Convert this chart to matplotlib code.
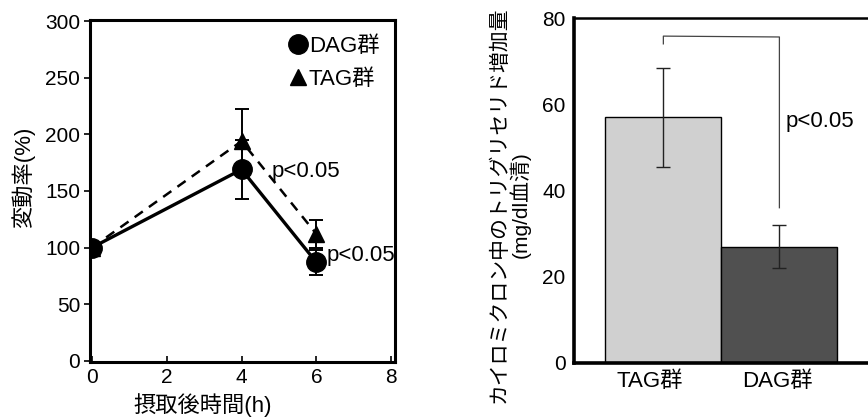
import matplotlib
matplotlib.use("Agg")
import matplotlib.pyplot as plt
from matplotlib.lines import Line2D

plt.rcParams['font.family'] = ['Liberation Sans', 'Noto Sans CJK JP', 'DejaVu Sans']

# Left panel data
hours = [0, 4, 6]
dag_rate = [100, 169, 87]
dag_err = [0, 26, 11]
tag_rate = [100, 194, 112]
tag_err = [0, 28, 12]
x_ticks = [0, 2, 4, 6, 8]
y_ticks_left = [0, 50, 100, 150, 200, 250, 300]

# Right panel data
groups = ['TAG群', 'DAG群']
tg_increase = [57, 27]
tg_err = [11.5, 5]
y_ticks_right = [0, 20, 40, 60, 80]

W, H = 868, 417
fig = plt.figure(figsize=(W / 100, H / 100), dpi=100)

def pos(l, t, r, b):
    return [l / W, 1 - b / H, (r - l) / W, (b - t) / H]

# ---------- Left panel ----------
ax1 = fig.add_axes(pos(90, 20, 395, 362))
ax1.plot(hours, tag_rate, color='black', lw=1.8, ls=(0, (4, 3)), zorder=2)
ax1.plot(hours, dag_rate, color='black', lw=2.4, zorder=3)
ax1.errorbar(hours, tag_rate, yerr=tag_err, fmt='^', color='black', ms=11,
             capsize=5, elinewidth=1.4, capthick=1.4, zorder=4)
ax1.errorbar(hours, dag_rate, yerr=dag_err, fmt='o', color='black', ms=14,
             capsize=5, elinewidth=1.4, capthick=1.4, zorder=5)
ax1.set_xlim(-0.05, 8.1)
ax1.set_ylim(-1, 301)
ax1.set_xticks(x_ticks)
ax1.set_yticks(y_ticks_left)
ax1.tick_params(axis='y', direction='out', length=4, width=1.2, labelsize=15, pad=3)
ax1.tick_params(axis='x', direction='in', length=4, width=1.2, labelsize=15, pad=4)
for s in ax1.spines.values():
    s.set_linewidth(2.2)
ax1.set_xlabel('摂取後時間(h)', fontsize=16)
ax1.xaxis.set_label_coords(0.37, -0.09)
ax1.set_ylabel('変動率(%)', fontsize=16)
ax1.yaxis.set_label_coords(-0.18, 0.54)
ax1.text(4.8, 167, 'p<0.05', fontsize=16, va='center', ha='left')
ax1.text(6.27, 93, 'p<0.05', fontsize=16, va='center', ha='left')
handles = [Line2D([], [], marker='o', ls='', color='black', ms=14),
           Line2D([], [], marker='^', ls='', color='black', ms=11)]
ax1.legend(handles, ['DAG群', 'TAG群'], loc='upper right', frameon=False,
           fontsize=16, handlelength=0.7, handletextpad=0.15, labelspacing=0.55,
           borderaxespad=0.5, borderpad=0.2, bbox_to_anchor=(1.0, 1.0))

# ---------- Right panel ----------
ax2 = fig.add_axes(pos(574, 18, 885, 363))
xpos = list(range(len(groups)))
ax2.bar(xpos, tg_increase, width=1.0, color=['#d0d0d0', '#505050'],
        edgecolor='black', linewidth=1.0, zorder=2)
ax2.errorbar(xpos, tg_increase, yerr=tg_err, fmt='none', ecolor='#222222',
             elinewidth=1.0, capsize=5, capthick=1.0, zorder=3)
ax2.plot([0, 0, 1, 1], [74, 75.8, 75.6, 36], color='#444444', lw=0.9, zorder=3)
ax2.text(1.05, 56, 'p<0.05', fontsize=16, va='center', ha='left')
ax2.set_xlim(-0.77, 1.91)
ax2.set_ylim(0, 80)
ax2.set_xticks([x - 0.12 if i == 0 else x - 0.02 for i, x in enumerate(xpos)])
ax2.set_xticklabels(groups)
ax2.set_yticks(y_ticks_right)
ax2.tick_params(axis='y', length=0, labelsize=15, pad=6)
ax2.tick_params(axis='x', length=0, labelsize=16, pad=6)
ax2.spines['left'].set_linewidth(2.6)
ax2.spines['bottom'].set_linewidth(2.6)
ax2.spines['top'].set_linewidth(1.8)
ax2.spines['right'].set_visible(False)
ax2.set_ylabel('カイロミクロン中のトリグリセリド増加量\n(mg/dl血清)', fontsize=15,
               linespacing=1.0, ha='center')
ax2.yaxis.set_label_coords(-0.14, 0.46)

fig.savefig('out.png', dpi=100)
